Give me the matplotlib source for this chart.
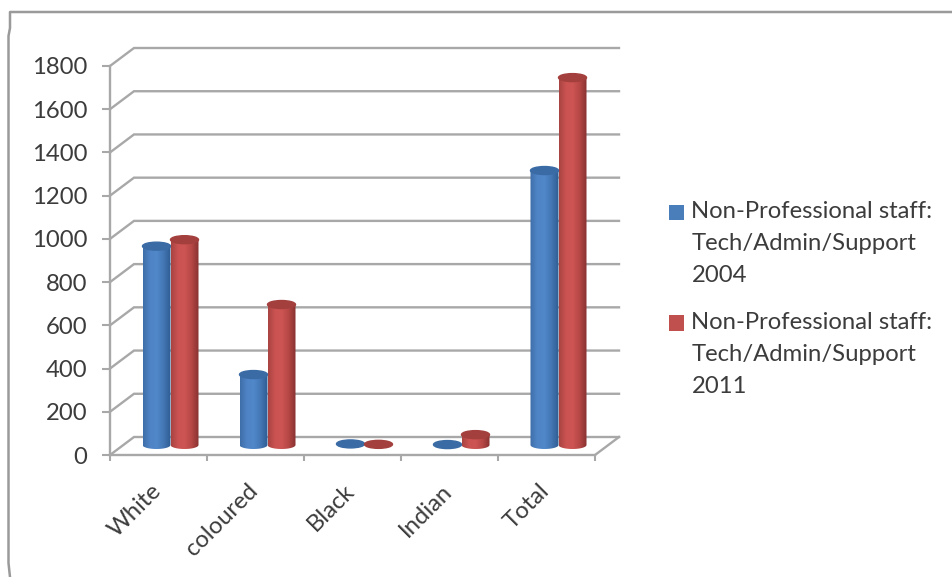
import numpy as np
import matplotlib
matplotlib.use("Agg")
import matplotlib.pyplot as plt
from matplotlib.colors import LinearSegmentedColormap
from matplotlib.lines import Line2D
from matplotlib.patches import Ellipse, Patch, Rectangle, PathPatch
from matplotlib.path import Path
from matplotlib.legend_handler import HandlerPatch
from matplotlib.transforms import ScaledTranslation

categories = ["White", "coloured", "Black", "Indian", "Total"]
series_2004 = [920, 326, 5, 2, 1270]
series_2011 = [950, 650, 3, 48, 1700]
label_2004 = "Non-Professional staff:\nTech/Admin/Support\n2004"
label_2011 = "Non-Professional staff:\nTech/Admin/Support\n2011"
y_ticks = [0, 200, 400, 600, 800, 1000, 1200, 1400, 1600, 1800]

W, H = 952, 577
GREY = "#a8a8a8"
TXT = "#3c3c3c"
plt.rcParams["font.family"] = ["Lato", "DejaVu Sans"]

fig = plt.figure(figsize=(W / 100, H / 100), dpi=100)
ax = fig.add_axes([110 / W, (H - 455) / H, 485 / W, 389 / H])
ax.set_xlim(0, 5)
ax.set_ylim(0, 1800)

px_x = 5 / 485
px_y = 1800 / 389
depth_x = 24 * px_x
depth_y = 18 * px_y
base = 10 * px_y
bar_w = 28 * px_x
ell_h = 8 * px_y
shift = 12 * px_x

for v in y_ticks:
    ax.plot([0, depth_x, 5 + depth_x], [v, v + depth_y, v + depth_y],
            color=GREY, lw=1.7, clip_on=False, zorder=1, solid_joinstyle="miter")
ax.plot([5, 5 + depth_x], [0, depth_y], color=GREY, lw=1.7, clip_on=False, zorder=1)

blue_cm = LinearSegmentedColormap.from_list("b", ["#3f6fa9", "#4f84c6", "#5088ca", "#4376b3", "#2f5c92"])
red_cm = LinearSegmentedColormap.from_list("r", ["#a84442", "#cb5351", "#cd5553", "#b44745", "#873230"])
grad = np.linspace(0, 1, 64)[None, :]
theta = np.linspace(np.pi, 2 * np.pi, 24)


def cylinders(xs, values, cmap, top_col, z):
    bars = ax.bar(xs, values, width=bar_w, bottom=base, color=cmap(0.35), zorder=z)
    for x, v in zip(xs, values):
        top = Ellipse((x, base + v), bar_w, ell_h, color=top_col, zorder=z + 0.2, clip_on=False)
        if v > 8:
            arc = np.c_[x + bar_w / 2 * np.cos(theta), base + ell_h / 2 * np.sin(theta)]
            verts = np.vstack([arc, [x + bar_w / 2, base + v], [x - bar_w / 2, base + v], arc[0]])
            clip = PathPatch(Path(verts), transform=ax.transData, fc="none", ec="none", zorder=z)
            ax.add_patch(clip)
            im = ax.imshow(grad, extent=(x - bar_w / 2, x + bar_w / 2, base - ell_h, base + v),
                           cmap=cmap, aspect="auto", zorder=z + 0.1, interpolation="bilinear")
            im.set_clip_path(clip)
        ax.add_patch(top)
    for b in bars:
        b.set_visible(False)


centers = np.arange(len(categories)) + 0.5 + shift
for i, c in enumerate(centers):
    cylinders([c - bar_w / 2], [series_2004[i]], blue_cm, "#3a6ba5", 3 + i)
    cylinders([c + bar_w / 2], [series_2011[i]], red_cm, "#a33f3d", 3.5 + i)
ax.set_xlim(0, 5)
ax.set_ylim(0, 1800)

for s in ("top", "right"):
    ax.spines[s].set_visible(False)
for s in ("left", "bottom"):
    ax.spines[s].set_color(GREY)
    ax.spines[s].set_linewidth(1.7)
    ax.spines[s].set_zorder(2)
ax.patch.set_alpha(0)
ax.set_yticks(y_ticks)
ax.set_yticklabels([str(v) for v in y_ticks])
ax.tick_params(axis="y", length=5.8, width=1.5, color=GREY, labelsize=17.2, labelcolor=TXT, pad=10.5)
ax.set_xticks(range(6))
ax.set_xticklabels([])
ax.tick_params(axis="x", which="major", length=4.5, width=1.5, color=GREY)
ax.set_xticks(np.arange(5) + 0.5, minor=True)
ax.set_xticklabels(categories, minor=True, rotation=45, ha="right", va="center",
                   rotation_mode="anchor", fontsize=17.2, color=TXT)
ax.tick_params(axis="x", which="minor", length=0, pad=23.5)
off = ScaledTranslation(-1 / 100, 0, fig.dpi_scale_trans)
for t in ax.get_xticklabels(minor=True):
    t.set_transform(t.get_transform() + off)


class FirstLineHandler(HandlerPatch):
    def create_artists(self, legend, orig, xd, yd, width, height, fontsize, trans):
        r = Rectangle((-xd, -yd + 22.5), width, height, facecolor=orig.get_facecolor(),
                      edgecolor="none", transform=trans)
        return [r]


handles = [Patch(facecolor="#4a7ebb", label=label_2004), Patch(facecolor="#c0504d", label=label_2011)]
leg = ax.legend(handles=handles, loc="upper left", bbox_to_anchor=(669 / W, 1 - 201 / H),
                bbox_transform=fig.transFigure, frameon=False, fontsize=17.2, borderpad=0, borderaxespad=0,
                handlelength=0.64, handleheight=0.64, handletextpad=0.3, labelspacing=1.05,
                labelcolor=TXT, handler_map={Patch: FirstLineHandler()})
for t in leg.get_texts():
    t.set_linespacing(1.66)

frame_x = [952, 10, 10, 8.5, 8.5, 10]
frame_y = [12, 12, 28, 36, 563, 577]
fig.add_artist(Line2D([x / W for x in frame_x], [1 - y / H for y in frame_y],
                      color="#9a9a9a", lw=1.8, transform=fig.transFigure))

fig.savefig("out.png", dpi=100)
